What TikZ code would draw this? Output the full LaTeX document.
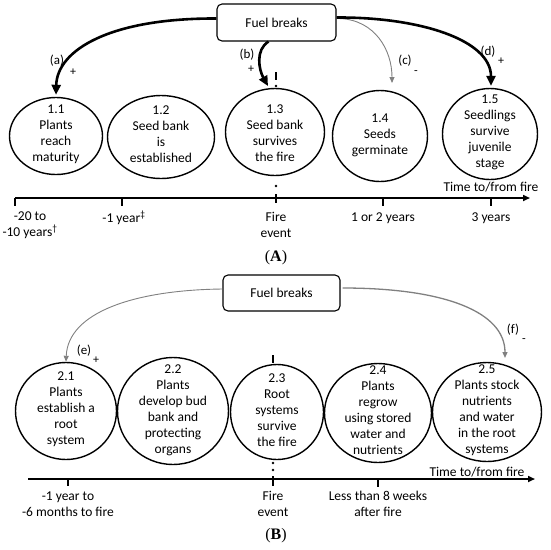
\documentclass[tikz,border=0pt]{standalone}
\usepackage{fontspec}
\setmainfont{Carlito}
\newfontfamily\capfont{Liberation Serif}
\usetikzlibrary{shapes.geometric,arrows.meta,calc}
\begin{document}
\begin{tikzpicture}[x=1pt,y=-1pt,
  fbox/.style={draw,rounded corners=5pt,line width=1.1pt,inner sep=0pt,font=\fontsize{13.5}{16}\selectfont},
  ell/.style={draw,ellipse,line width=1.4pt,inner sep=0pt},
  txt/.style={align=center,inner sep=0pt,font=\fontsize{13.5}{16}\selectfont},
  lbl/.style={inner sep=0pt,font=\fontsize{13}{15}\selectfont},
  sgn/.style={inner sep=0pt,font=\fontsize{12}{14}\selectfont},
  bigarr/.style={line width=2.6pt,-{Triangle[length=10pt,width=9pt]}},
  grayarr/.style={draw=gray,line width=0.9pt,-{Triangle[length=6pt,width=5pt]}},
  tline/.style={line width=1.6pt,-{Triangle[length=7pt,width=6pt]}},
  tk/.style={line width=1.4pt},
  barmk/.style={line width=2pt},
  captxt/.style={inner sep=0pt,font=\capfont\fontsize{16}{18}\selectfont},
]
\useasboundingbox (0,0) rectangle (550,550);

% ---------------- Panel A ----------------
\node[fbox,minimum width=119pt,minimum height=37pt] (fbA) at (276.5,22.5) {Fuel breaks};

\node[ell,minimum width=93pt,minimum height=77pt] (e11) at (56,136) {};
\node[txt] (t11) at (56,134) {1.1\\Plants\\reach\\maturity};
\node[ell,minimum width=107pt,minimum height=83pt] (e12) at (161,137) {};
\node[txt] (t12) at (161,134) {1.2\\Seed bank\\is\\established};
\node[ell,minimum width=99pt,minimum height=87pt] (e13) at (275,132) {};
\node[txt] (t13) at (275,133) {1.3\\Seed bank\\survives\\the fire};
\node[ell,minimum width=95pt,minimum height=91pt] (e14) at (380,136) {};
\node[txt] (t14) at (380,135) {1.4\\Seeds\\germinate};
\node[ell,minimum width=95pt,minimum height=91pt] (e15) at (490,134) {};
\node[txt] (t15) at (490,132) {1.5\\Seedlings\\survive\\juvenile\\stage};

\coordinate (bEnd) at (268,86);
\coordinate (cEnd) at (392,83);
\draw[bigarr] ($(fbA.west)+(0,-4)$) .. controls (110,18) and (57,50) .. ($(e11.north)+(0,-2)$);
\draw[bigarr] ($(fbA.south)+(-8,0)$) .. controls (255,50) and (259,70) .. (bEnd);
\draw[grayarr] ($(fbA.east)+(3,-4)$) .. controls (375,20) and (392,50) .. (cEnd);
\draw[bigarr] ($(fbA.east)+(0,-5)$) .. controls (420,17) and (491,40) .. ($(e15.north)+(1,-2)$);

\node[lbl] (la) at (57,61) {(a)};
\node[sgn] (pa) at (73,72) {+};
\node[lbl] (lb) at (247,55) {(b)};
\node[sgn] (pb) at (251,69) {+};
\node[lbl] (lc) at (405,61) {(c)};
\node[sgn] (mc) at (416,73) {-};
\node[lbl] (ld) at (488,52) {(d)};
\node[sgn] (pd) at (501,61) {+};

% fire marks A
\draw[barmk] (276,72) -- (276,80);
\fill (276,86) circle (1.3);
\fill (276,186) circle (1.3);

% timeline A
\coordinate (tA0) at (15,198);
\coordinate (tA1) at (530,198);
\draw[tline] (tA0) -- (tA1);
\draw[tk] (15,198) -- (15,206);
\draw[tk] (122,198) -- (122,206);
\draw[barmk] (276,194) -- (276,203);
\draw[tk] (383,198) -- (383,206);
\draw[tk] (491,198) -- (491,206);

\node[txt] (xa1) at (30,225) {-20 to\\-10 years\textsuperscript{†}};
\node[txt] (xa2) at (124,218) {-1 year\textsuperscript{‡}};
\node[txt] (xa3) at (276,225) {Fire\\event};
\node[txt] (xa4) at (383,218) {1 or 2 years};
\node[txt] (xa5) at (491,218) {3 years};
\node[txt] (xa6) at (491,187) {Time to/from fire};
\node[captxt] (capA) at (276,258) {(\textbf{A})};

% ---------------- Panel B ----------------
\node[fbox,minimum width=117pt,minimum height=36pt] (fbB) at (281.5,293) {Fuel breaks};

\node[ell,minimum width=101pt,minimum height=97pt] (e21) at (66,411) {};
\node[txt] (t21) at (66,409) {2.1\\Plants\\establish a\\root\\system};
\node[ell,minimum width=111pt,minimum height=107pt] (e22) at (173,411) {};
\node[txt] (t22) at (173,410) {2.2\\Plants\\develop bud\\bank and\\protecting\\organs};
\node[ell,minimum width=93pt,minimum height=95pt] (e23) at (277,412) {};
\node[txt] (t23) at (277,410) {2.3\\Root\\systems\\survive\\the fire};
\node[ell,minimum width=107pt,minimum height=99pt] (e24) at (378,413) {};
\node[txt] (t24) at (378,410) {2.4\\Plants\\regrow\\using stored\\water and\\nutrients};
\node[ell,minimum width=109pt,minimum height=99pt] (e25) at (487,412) {};
\node[txt] (t25) at (487,410) {2.5\\Plants stock\\nutrients\\and water\\in the root\\systems};

\coordinate (fEnd) at (505,358);
\draw[grayarr] ($(fbB.west)+(0,-4)$) .. controls (135,290) and (68,312) .. (e21.north);
\draw[grayarr,line width=1.3pt] ($(fbB.east)+(2,-5)$) .. controls (445,288) and (505,312) .. (fEnd);

\node[lbl] (le) at (84,351) {(e)};
\node[sgn] (pe) at (96,360) {+};
\node[lbl] (lf) at (513,330) {(f)};
\node[sgn] (mf) at (524,341) {-};

% fire marks B
\draw[barmk] (273,355) -- (273,363);
\fill (273,463) circle (1.3);
\fill (273,470) circle (1.3);

% timeline B
\coordinate (tB0) at (28,479);
\coordinate (tB1) at (535,479);
\draw[tline] (tB0) -- (tB1);
\draw[tk] (68,479) -- (68,486);
\draw[barmk] (273,476) -- (273,486);
\draw[tk] (378,479) -- (378,487);

\node[txt] (xb1) at (68,504) {-1 year to\\-6 months to fire};
\node[txt] (xb2) at (273,504) {Fire\\event};
\node[txt] (xb3) at (378,504) {Less than 8 weeks\\after fire};
\node[txt] (xb4) at (477,472) {Time to/from fire};
\node[captxt] (capB) at (276,536) {(\textbf{B})};
\end{tikzpicture}
\end{document}
